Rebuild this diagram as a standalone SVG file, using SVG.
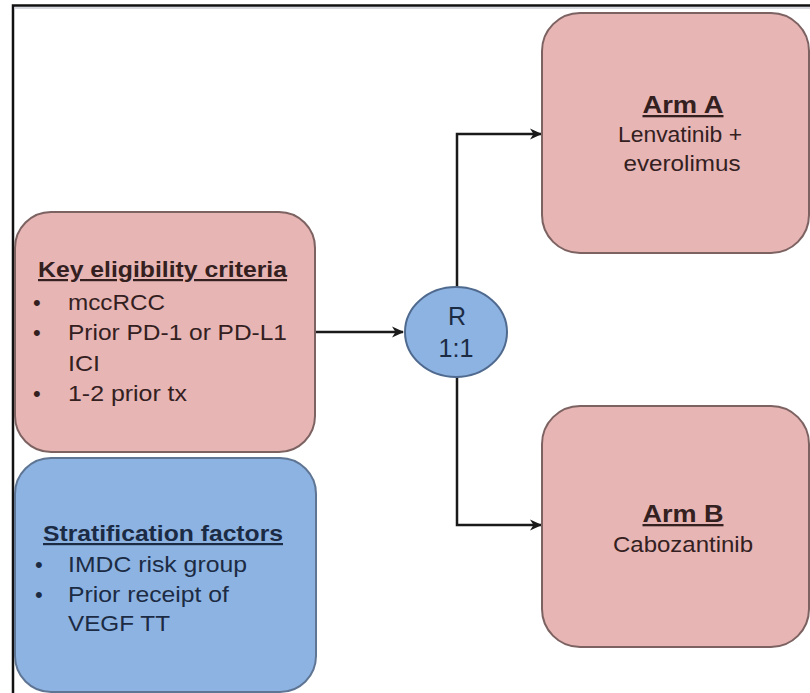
<svg xmlns="http://www.w3.org/2000/svg" width="810" height="693" viewBox="0 0 810 693">
<defs>
<marker id="arr" markerWidth="14" markerHeight="14" refX="12" refY="7" orient="auto" markerUnits="userSpaceOnUse">
<path d="M1,1.5 L13,7 L1,12.5 L4.5,7 Z" fill="#1a1a1a"/>
</marker>
</defs>
<style>
.pink{fill:#e6b5b4;stroke:#7d6262;stroke-width:2}
.blue{fill:#8db3e2;stroke:#5f7594;stroke-width:2}
.circ{fill:#8db3e2;stroke:#4f6a8e;stroke-width:2}
.t{font-family:"Liberation Sans",Arial,sans-serif;font-size:22px;fill:#33201f}
.tb{fill:#1c2b44}
.h{font-weight:bold;text-decoration:underline}
.c{text-anchor:middle}
.con{fill:none;stroke:#1a1a1a;stroke-width:2.5;marker-end:url(#arr)}
</style>
<rect width="810" height="693" fill="#ffffff"/>
<path d="M13,693 V5.5 H810" fill="none" stroke="#111" stroke-width="2.5"/>
<line x1="14" y1="8" x2="810" y2="8" stroke="#c8ccd4" stroke-width="1.5"/>

<g id="connectors">
<path class="con" d="M316,332 H403"/>
<path class="con" d="M457,287 V134 H541"/>
<path class="con" d="M457,377 V525 H541"/>
</g>

<g id="key-eligibility">
<rect class="pink" x="15" y="212" width="300" height="240" rx="36"/>
<text class="t h" x="38" y="277" textLength="249" lengthAdjust="spacingAndGlyphs">Key eligibility criteria</text>
<text class="t" x="33" y="310">•</text>
<text class="t" x="68" y="310" textLength="97" lengthAdjust="spacingAndGlyphs">mccRCC</text>
<text class="t" x="33" y="340">•</text>
<text class="t" x="68" y="340" textLength="219" lengthAdjust="spacingAndGlyphs">Prior PD-1 or PD-L1</text>
<text class="t" x="68" y="371" textLength="32" lengthAdjust="spacingAndGlyphs">ICI</text>
<text class="t" x="33" y="401">•</text>
<text class="t" x="68" y="401" textLength="119" lengthAdjust="spacingAndGlyphs">1-2 prior tx</text>
</g>

<g id="stratification">
<rect class="blue" x="15" y="458" width="301" height="234" rx="36"/>
<text class="t tb h" x="43" y="541" textLength="240" lengthAdjust="spacingAndGlyphs">Stratification factors</text>
<text class="t tb" x="35" y="572">•</text>
<text class="t tb" x="68" y="572" textLength="179" lengthAdjust="spacingAndGlyphs">IMDC risk group</text>
<text class="t tb" x="35" y="602">•</text>
<text class="t tb" x="68" y="602" textLength="161" lengthAdjust="spacingAndGlyphs">Prior receipt of</text>
<text class="t tb" x="68" y="631" textLength="102" lengthAdjust="spacingAndGlyphs">VEGF TT</text>
</g>

<g id="randomization">
<ellipse class="circ" cx="456" cy="332" rx="51" ry="45"/>
<text class="t tb c" x="457" y="325" style="font-size:25px">R</text>
<text class="t tb c" x="456" y="357" style="font-size:25px" textLength="35" lengthAdjust="spacingAndGlyphs">1:1</text>
</g>

<g id="arm-a">
<rect class="pink" x="542" y="13" width="267" height="240" rx="38"/>
<text class="t h c" x="683" y="113" style="font-size:23px" textLength="81" lengthAdjust="spacingAndGlyphs">Arm A</text>
<text class="t c" x="680" y="142" textLength="124" lengthAdjust="spacingAndGlyphs">Lenvatinib +</text>
<text class="t c" x="682" y="171" textLength="117" lengthAdjust="spacingAndGlyphs">everolimus</text>
</g>

<g id="arm-b">
<rect class="pink" x="542" y="406" width="267" height="241" rx="38"/>
<text class="t h c" x="683" y="522" style="font-size:23px" textLength="81" lengthAdjust="spacingAndGlyphs">Arm B</text>
<text class="t c" x="683" y="552" textLength="140" lengthAdjust="spacingAndGlyphs">Cabozantinib</text>
</g>
</svg>
